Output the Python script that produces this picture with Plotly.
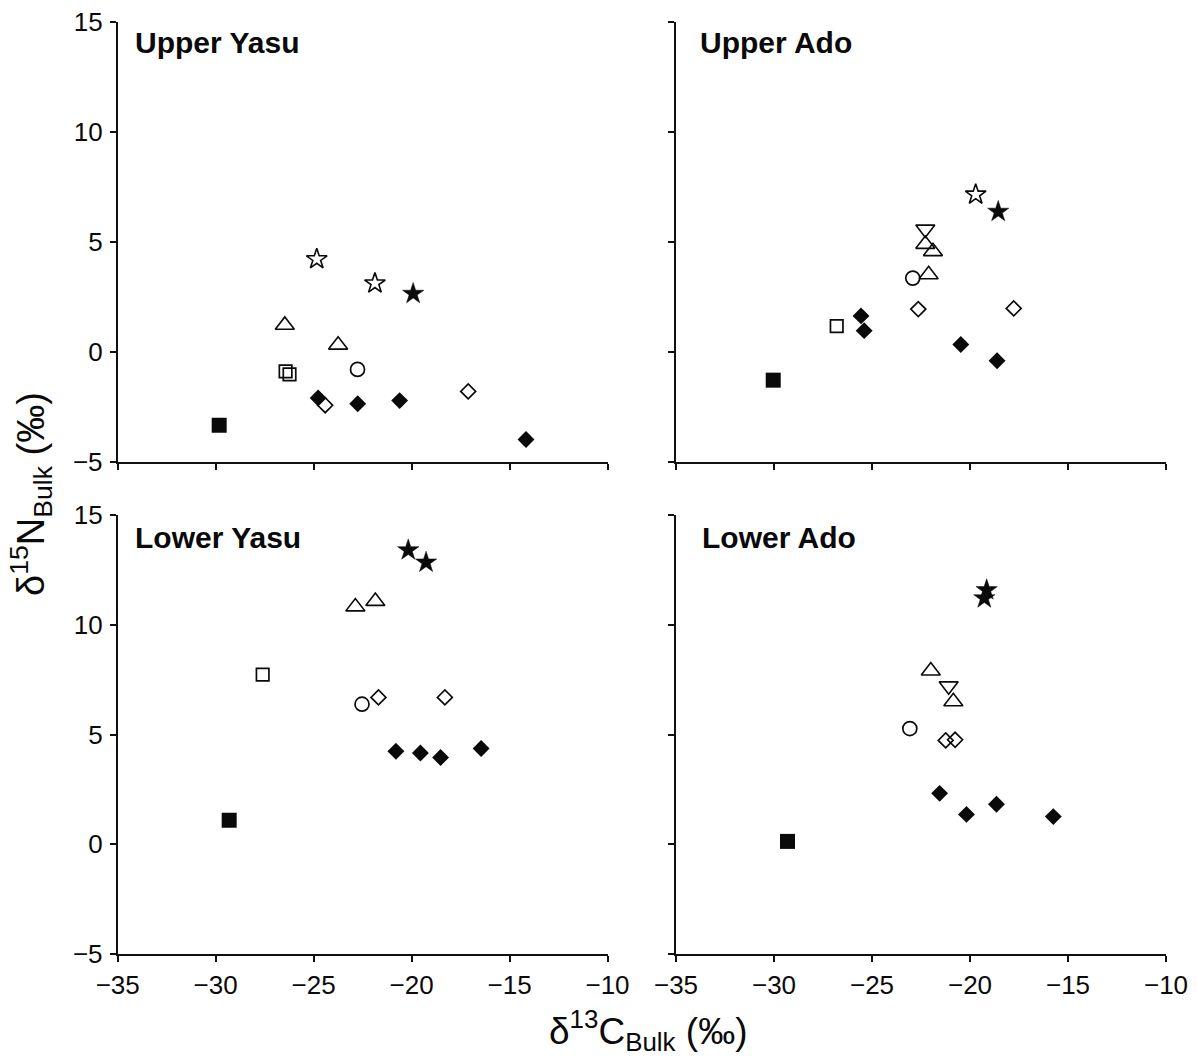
import plotly.graph_objects as go

# ---- data: bulk stable isotope values (δ13C, δ15N, ‰) per site ----
# group codes: A solid square, B open square, C solid diamond, D open diamond,
# E open circle, F open triangle-up, G open triangle-down, H open star, I solid star
upper_yasu_d13c = [-29.82, -26.43, -26.23, -24.77, -22.75, -20.61, -14.16, -24.41, -17.11,
                   -22.76, -26.47, -23.75, -24.84, -21.87, -19.92]
upper_yasu_d15n = [-3.33, -0.88, -1.02, -2.09, -2.35, -2.21, -3.98, -2.42, -1.79,
                   -0.79, 1.22, 0.32, 4.22, 3.12, 2.65]
upper_yasu_group = ["A", "B", "B", "C", "C", "C", "C", "D", "D",
                    "E", "F", "F", "H", "H", "I"]

upper_ado_d13c = [-30.04, -26.80, -25.56, -25.40, -20.47, -18.62, -22.64, -17.77,
                  -22.92, -22.28, -21.89, -22.11, -22.28, -19.71, -18.56]
upper_ado_d15n = [-1.28, 1.18, 1.64, 0.97, 0.34, -0.40, 1.95, 1.98,
                  3.36, 4.90, 4.57, 3.52, 5.58, 7.16, 6.38]
upper_ado_group = ["A", "B", "C", "C", "C", "C", "D", "D",
                   "E", "F", "F", "F", "G", "H", "I"]

lower_yasu_d13c = [-29.31, -27.60, -20.80, -19.55, -18.52, -16.45, -21.69, -18.30,
                   -22.53, -22.87, -21.85, -20.17, -19.26]
lower_yasu_d15n = [1.09, 7.73, 4.24, 4.16, 3.95, 4.36, 6.69, 6.69,
                   6.38, 10.82, 11.07, 13.40, 12.84]
lower_yasu_group = ["A", "B", "C", "C", "C", "C", "D", "D",
                    "E", "F", "F", "I", "I"]

lower_ado_d13c = [-29.31, -21.55, -20.18, -18.65, -15.75, -21.24, -20.76,
                  -23.07, -22.00, -20.85, -21.09, -19.15, -19.27]
lower_ado_d15n = [0.13, 2.32, 1.36, 1.82, 1.26, 4.73, 4.76,
                  5.27, 7.90, 6.50, 7.21, 11.58, 11.21]
lower_ado_group = ["A", "C", "C", "C", "C", "D", "D",
                   "E", "F", "F", "G", "I", "I"]

panel_titles = ["Upper Yasu", "Upper Ado", "Lower Yasu", "Lower Ado"]
x_ticks = [-35, -30, -25, -20, -15, -10]
y_ticks = [-5, 0, 5, 10, 15]

# ---- marker styles per group ----
BLACK = "#0a0a0a"
STYLE = {
    "A": dict(symbol="square", size=15, line_width=0),
    "B": dict(symbol="square-open", size=12.5, line_width=1.7),
    "C": dict(symbol="diamond", size=13, line_width=0),
    "D": dict(symbol="diamond-open", size=11.5, line_width=1.7),
    "E": dict(symbol="circle-open", size=14, line_width=1.7),
    "F": dict(symbol="triangle-up-open", size=16.5, line_width=1.6),
    "G": dict(symbol="triangle-down-open", size=16.5, line_width=1.6),
    "H": dict(symbol="star-open", size=15.5, line_width=1.6),
    "I": dict(symbol="star", size=16, line_width=0.5),
}

panels = [
    (upper_yasu_d13c, upper_yasu_d15n, upper_yasu_group),
    (upper_ado_d13c, upper_ado_d15n, upper_ado_group),
    (lower_yasu_d13c, lower_yasu_d15n, lower_yasu_group),
    (lower_ado_d13c, lower_ado_d15n, lower_ado_group),
]

W, H = 1198, 1059
FONT = "Liberation Sans, Arial, Helvetica, sans-serif"

# plot-area edges in pixels
x_left = (117.7, 607.5)
x_right = (676.0, 1166.0)
y_top = (22.0, 462.0)
y_bottom = (515.0, 954.0)


def xdom(px):
    return [px[0] / W, px[1] / W]


def ydom(py):
    return [1 - py[1] / H, 1 - py[0] / H]


fig = go.Figure()

for i, (xs, ys, gs) in enumerate(panels):
    k = "" if i == 0 else str(i + 1)
    for g in ["A", "B", "C", "D", "E", "F", "G", "H", "I"]:
        px_ = [x for x, gg in zip(xs, gs) if gg == g]
        py_ = [y for y, gg in zip(ys, gs) if gg == g]
        if not px_:
            continue
        st = STYLE[g]
        fig.add_trace(go.Scatter(
            x=px_, y=py_, mode="markers", showlegend=False,
            xaxis="x" + k, yaxis="y" + k,
            marker=dict(symbol=st["symbol"], size=st["size"], color=BLACK,
                        line=dict(width=st["line_width"], color=BLACK)),
            hoverinfo="x+y",
        ))

axis_common = dict(
    showgrid=False, zeroline=False, showline=True, linecolor="#111111", linewidth=1.8,
    ticks="outside", ticklen=6, tickwidth=1.5, tickcolor="#111111",
    tickfont=dict(family=FONT, size=26, color="#0a0a0a"),
    fixedrange=True, automargin=False,
)

layout_axes = {}
for i in range(4):
    k = "" if i == 0 else str(i + 1)
    is_top = i < 2
    is_left = i % 2 == 0
    layout_axes["xaxis" + k] = dict(
        axis_common, domain=xdom(x_left if is_left else x_right),
        anchor="y" + k, range=[-35, -10], tickvals=x_ticks,
        showticklabels=not is_top, ticklabelstandoff=1,
    )
    layout_axes["yaxis" + k] = dict(
        axis_common, domain=ydom(y_top if is_top else y_bottom),
        anchor="x" + k, range=[-5, 15], tickvals=y_ticks,
        showticklabels=is_left, ticklabelstandoff=2,
    )

# panel names
title_pos = [(133, 42), (698, 42), (133, 537), (700, 537)]
annotations = []
for name, (tx, ty) in zip(panel_titles, title_pos):
    annotations.append(dict(
        text="<b>" + name + "</b>", xref="paper", yref="paper",
        x=tx / W, y=1 - ty / H, xanchor="left", yanchor="middle",
        showarrow=False, font=dict(family=FONT, size=30, color="#0a0a0a"),
    ))

# shared axis titles
annotations.append(dict(
    text="δ<sup>13</sup>C<sub>Bulk</sub> (‰)", xref="paper", yref="paper",
    x=648 / W, y=1 - 1030 / H, xanchor="center", yanchor="middle",
    showarrow=False, font=dict(family=FONT, size=37, color="#0a0a0a"),
))
annotations.append(dict(
    text="δ<sup>15</sup>N<sub>Bulk</sub> (‰)", xref="paper", yref="paper",
    x=31 / W, y=1 - 494 / H, xanchor="center", yanchor="middle", textangle=-90,
    showarrow=False, font=dict(family=FONT, size=38, color="#0a0a0a"),
))

fig.update_layout(
    width=W, height=H,
    margin=dict(l=0, r=0, t=0, b=0, autoexpand=False),
    paper_bgcolor="white", plot_bgcolor="white",
    annotations=annotations,
    showlegend=False,
    **layout_axes,
)

fig.write_html("out.html", config={"displayModeBar": False})
